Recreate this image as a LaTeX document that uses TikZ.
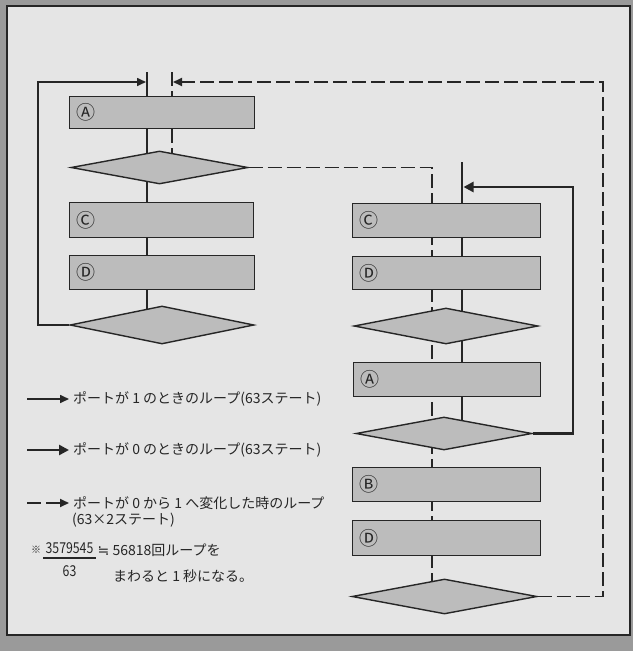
\documentclass[tikz,border=0pt]{standalone}
\usepackage{graphicx}
\usepackage{fontspec}
\setmainfont{Noto Sans CJK JP}
\newfontfamily\symfont{DejaVu Sans}
\usetikzlibrary{arrows.meta,shapes.geometric,calc}
\pgfdeclarelayer{bg}
\pgfdeclarelayer{lines}
\pgfsetlayers{bg,lines,main}
\definecolor{outerc}{HTML}{9A9A9A}
\definecolor{panel}{HTML}{E5E5E5}
\definecolor{boxfill}{HTML}{BCBCBC}
\definecolor{ink}{HTML}{262626}
\tikzset{
  box/.style={rectangle, draw=ink, fill=boxfill, line width=1.4pt, inner sep=0pt},
  dia/.style={diamond, draw=ink, fill=boxfill, line width=1.4pt, inner sep=0pt},
  circ/.style={font=\fontsize{19}{19}\selectfont, text=ink, inner sep=0pt},
  txt/.style={font=\fontsize{14}{16}\selectfont, text=ink, inner sep=4pt},
  numtxt/.style={font=\fontsize{15}{16}\selectfont, text=ink, inner sep=0pt},
  solA/.style={draw=ink, line width=1.6pt},
  solB/.style={draw=ink, line width=2.8pt},
  dsh/.style={draw=ink, line width=1.8pt, dash pattern=on 14pt off 5pt},
  tipA/.style={-{Triangle[length=9pt,width=8pt]}},
  tipB/.style={-{Triangle[length=10pt,width=10pt]}}
}
\begin{document}
\begin{tikzpicture}[x=1pt,y=-1pt]
\useasboundingbox (0,0) rectangle (633,651);
\begin{pgfonlayer}{bg}
  \fill[outerc] (0,0) rectangle (633,651);
  \draw[fill=panel, draw=ink, line width=1.3pt] (7,6) rectangle (630,635);
\end{pgfonlayer}

% left column
\node[box, minimum width=185, minimum height=32] (A1) at (162,112.5) {};
\node[dia, minimum width=177, minimum height=33] (Q1) at (159.5,167.5) {};
\node[box, minimum width=184, minimum height=35] (C1) at (161.5,220) {};
\node[box, minimum width=185, minimum height=34] (D1) at (162,272.5) {};
\node[dia, minimum width=184, minimum height=38] (Q2) at (162,325) {};
\node[circ] (A1t) at ($(A1.west)+(17,0)$) {Ⓐ};
\node[circ] (C1t) at ($(C1.west)+(17,0)$) {Ⓒ};
\node[circ] (D1t) at ($(D1.west)+(17,0)$) {Ⓓ};

% right column
\node[box, minimum width=188, minimum height=34] (C2) at (446.5,220.5) {};
\node[box, minimum width=188, minimum height=33] (D2) at (446.5,273) {};
\node[dia, minimum width=184, minimum height=36] (R1) at (446,326) {};
\node[box, minimum width=187, minimum height=34] (A2) at (447,379.5) {};
\node[dia, minimum width=176, minimum height=33] (R2) at (444,433.5) {};
\node[box, minimum width=188, minimum height=34] (B2) at (446.5,484.5) {};
\node[box, minimum width=188, minimum height=35] (D3) at (446.5,538) {};
\node[dia, minimum width=185, minimum height=35] (R3) at (444.5,596.5) {};
\node[circ] (C2t) at ($(C2.west)+(17,0)$) {Ⓒ};
\node[circ] (D2t) at ($(D2.west)+(17,0)$) {Ⓓ};
\node[circ] (A2t) at ($(A2.west)+(17,0)$) {Ⓐ};
\node[circ] (B2t) at ($(B2.west)+(17,0)$) {Ⓑ};
\node[circ] (D3t) at ($(D3.west)+(17,0)$) {Ⓓ};

% guide coordinates
\coordinate (lx) at (147,0);
\coordinate (dx) at (172,0);
\coordinate (rx) at (462,0);
\coordinate (rdx) at (432,0);
\coordinate (topL) at (147,72);
\coordinate (topLd) at (172,72);
\coordinate (topR) at (462,162);
\coordinate (lcorner) at (38,82);
\coordinate (ljoin) at (146,82);
\coordinate (rcorner) at (603,82);
\coordinate (djoin) at (173,82);
\coordinate (tcorner) at (573,187);
\coordinate (rjoin) at (463.5,187);

\begin{pgfonlayer}{lines}
  \draw[solA] (topL) -- (lx |- A1.center) -- (lx |- Q1.center) -- (lx |- C1.center) -- (lx |- D1.center) -- (lx |- Q2.center);
  \draw[dsh] (topLd) -- (dx |- A1.center) -- (dx |- Q1.center);
  \draw[dsh] (Q1.east) -- (Q1.east -| rdx) -- (rdx |- C2.center) -- (rdx |- D2.center) -- (rdx |- R1.center) -- (rdx |- A2.center) -- (rdx |- R2.center) -- (rdx |- B2.center) -- (rdx |- D3.center) -- (rdx |- R3.center);
  \draw[solB] (topR) -- (rx |- C2.center) -- (rx |- D2.center) -- (rx |- R1.center) -- (rx |- A2.center) -- (rx |- R2.center);
\end{pgfonlayer}

% loops
\draw[solA, tipA] (Q2.west) -| (lcorner) -- (ljoin);
\draw[dsh, tipA] (R3.east) -| (rcorner) -- (djoin);
\draw[solB, tipB] (R2.east) -| (tcorner) -- (rjoin);

% legend
\coordinate (g1) at (27,399);
\coordinate (g2) at (27,450);
\coordinate (g3) at (27,503);
\node[txt, anchor=west] (t1) at (69,399) {ポートが 1 のときのループ(63ステート)};
\node[txt, anchor=west] (t2) at (69,450) {ポートが 0 のときのループ(63ステート)};
\node[txt, anchor=west] (t3) at (69,503) {ポートが 0 から 1 へ変化した時のループ};
\node[txt, anchor=west] (t3b) at (68,520) {(63×2ステート)};
\draw[solA, tipA] (g1) -- (t1);
\draw[solB, tipB] (g2) -- (t2);
\draw[dsh, tipA] (g3) -- (t3);

% note
\node[txt, font=\fontsize{10}{10}\selectfont] (kome) at (36,550) {※};
\node[numtxt] (num) at (69.5,548.5) {\scalebox{0.82}[1]{3579545}};
\node[numtxt] (den) at (69.5,571) {\scalebox{0.82}[1]{63}};
\coordinate (barl) at (43,558);
\coordinate (barr) at (96,558);
\draw[draw=ink, line width=1.2pt] (barl) -- (barr);
\node[txt, anchor=west, inner sep=0pt] (n1) at (97.5,550) {{\symfont ≒} 56818回ループを};
\node[txt, anchor=west, inner sep=0pt] (n2) at (113,576) {まわると 1 秒になる。};
\end{tikzpicture}
\end{document}
